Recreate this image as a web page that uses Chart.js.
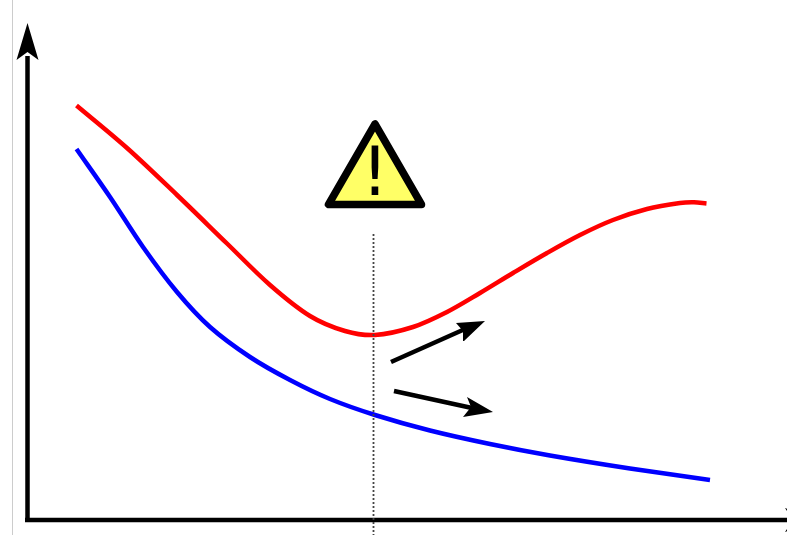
<!DOCTYPE html>
<html>
<head>
<meta charset="utf-8">
<script src="https://cdn.jsdelivr.net/npm/chart.js@4/dist/chart.umd.js"></script>
<style>
html,body{margin:0;padding:0;background:#fff}
#wrap{width:787px;height:535px}
canvas{display:block}
</style>
</head>
<body>
<div id="wrap"><canvas id="c" width="787" height="535"></canvas></div>
<script>
// Values; both scales run in the picture's own units.
const redX  = [76.5,127,177,227,270,310,345,375,413,447,480,513,547,580,613,647,680,694,706.5];
const redY  = [105.5,148,195,243.5,285,316,331,335,327,312,293,273,253,235,220,209,203,202.3,203.5];
const blueX = [76.5,110,143,177,210,250,290,330,375,430,490,550,630,710];
const blueY = [149,197,247,292,327,357,380,399,415,430.5,444,455.5,468.5,480];

const markerX = [373.5,373.5];
const markerY = [234,535];
const edgeX = [12.5,12.5];
const edgeY = [0,535];

const yAxisX = [27.5,27.5];
const yAxisY = [520,56];
const xAxisX = [25,790];
const xAxisY = [520,520];
const yHeadX = [27.5,38.5,27.5,16.5,27.5];
const yHeadY = [23,60,52,60,23];
const xHeadX = [785,822,785,793,785];
const xHeadY = [508,520,532,520,508];

const upShaftX = [391,465];
const upShaftY = [362,329];
const upHeadX = [485,464,463,456,485];
const upHeadY = [321,341,331,323,321];
const downShaftX = [394,472];
const downShaftY = [391,408];
const downHeadX = [493,463,471,467,493];
const downHeadY = [412,417,407,397,412];

const warnX = [375,421.5,375,328.5,375];
const warnY = [204.5,204.5,124,204.5,204.5];
const warnText = "!";
const warnTextX = 375;
const warnTextY = 195;

const pts = (xs, ys) => xs.map((x, i) => ({x, y: ys[i]}));
const stroke = (xs, ys, color, width, extra) => Object.assign({
  data: pts(xs, ys), borderColor: color, borderWidth: width, pointRadius: 0,
  showLine: true, fill: false, tension: 0, borderCapStyle: 'butt'
}, extra || {});
const shape = (xs, ys, color) => ({
  data: pts(xs, ys), borderColor: color, backgroundColor: color, borderWidth: 0,
  pointRadius: 0, showLine: true, fill: 'shape', tension: 0
});

const warnLabel = {
  id: 'warnLabel',
  afterDatasetsDraw(chart) {
    const {ctx, scales} = chart;
    ctx.save();
    ctx.fillStyle = '#000';
    ctx.font = '67px "DejaVu Sans"';
    ctx.textAlign = 'center';
    ctx.textBaseline = 'alphabetic';
    ctx.fillText(warnText, scales.x.getPixelForValue(warnTextX), scales.y.getPixelForValue(warnTextY));
    ctx.restore();
  }
};

new Chart(document.getElementById('c'), {
  type: 'scatter',
  data: {
    datasets: [
      stroke(markerX, markerY, '#444444', 1.8, {borderDash: [2, 2]}),
      stroke(warnX, warnY, '#000000', 7.5, {fill: 'shape', backgroundColor: '#ffff66', borderJoinStyle: 'round'}),
      shape(upHeadX, upHeadY, '#000000'),
      stroke(upShaftX, upShaftY, '#000000', 4.5),
      shape(downHeadX, downHeadY, '#000000'),
      stroke(downShaftX, downShaftY, '#000000', 4.5),
      stroke(redX, redY, '#ff0000', 4.5, {tension: 0.33, borderJoinStyle: 'round'}),
      stroke(blueX, blueY, '#0000ff', 4.5, {tension: 0.33, borderJoinStyle: 'round'}),
      shape(yHeadX, yHeadY, '#000000'),
      shape(xHeadX, xHeadY, '#000000'),
      stroke(yAxisX, yAxisY, '#000000', 4.5),
      stroke(xAxisX, xAxisY, '#000000', 4.5),
      stroke(edgeX, edgeY, '#cccccc', 1)
    ]
  },
  options: {
    responsive: false,
    animation: false,
    events: [],
    layout: {padding: 0},
    plugins: {legend: {display: false}, tooltip: {enabled: false}, title: {display: false}},
    scales: {
      x: {type: 'linear', display: false, min: 0, max: 787},
      y: {type: 'linear', display: false, min: 0, max: 535, reverse: true}
    }
  },
  plugins: [warnLabel]
});
</script>
</body>
</html>
